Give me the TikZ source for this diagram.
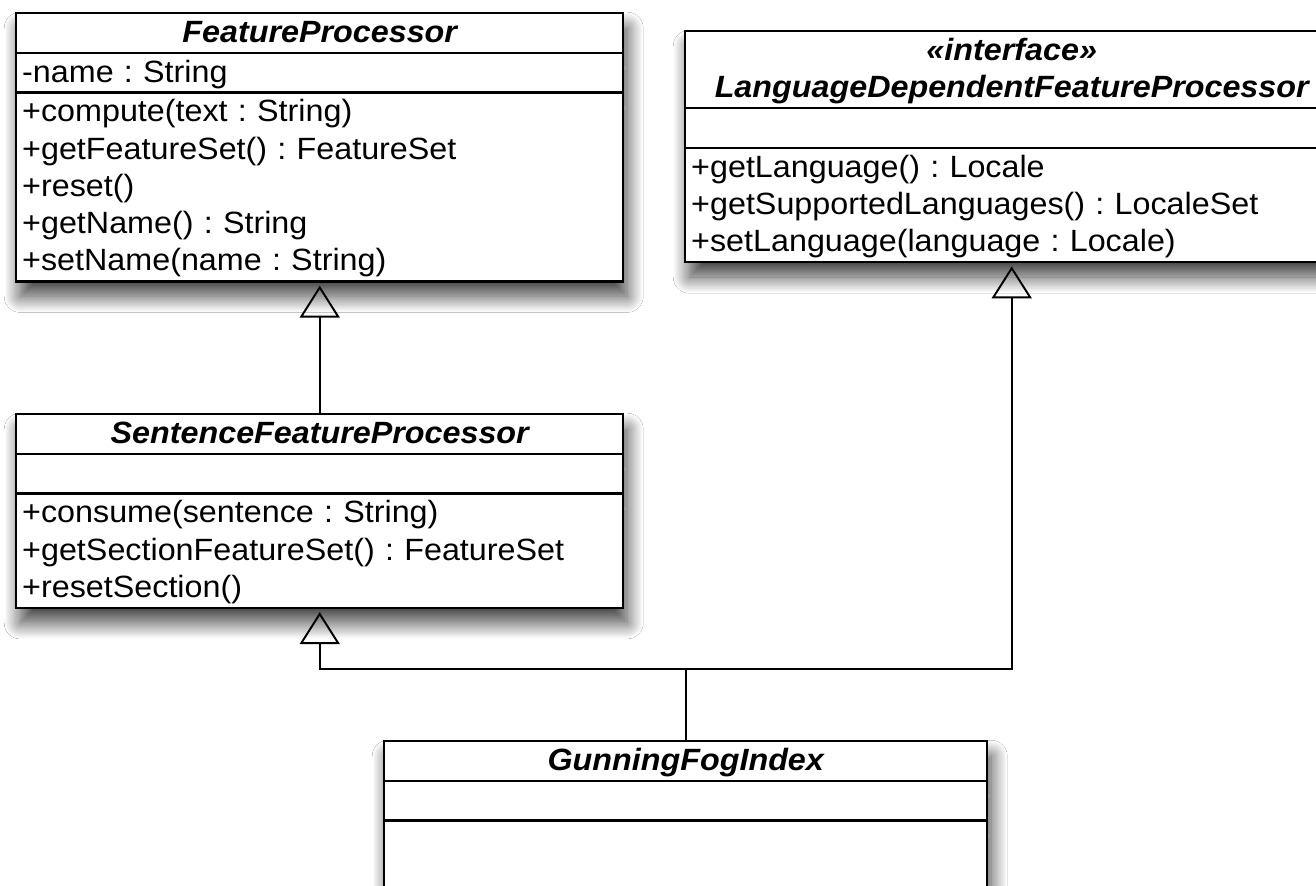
\documentclass[tikz,border=0pt]{standalone}
\usepackage{fontspec}
\setmainfont{Liberation Sans}[FakeStretch=1.05]
\usepackage{tikz}
\usetikzlibrary{arrows.meta,shapes.multipart,shadows.blur,positioning}
\frenchspacing

\newcommand{\rowstrut}{\rule[-5.3pt]{0pt}{21.2pt}}
\newcommand{\classtitle}[1]{\hbox to\hsize{\hss\bfseries\itshape\rowstrut#1\hss}}

\tikzstyle{umlclass} = [rectangle split, rectangle split parts=3, draw, line width=1.4pt, fill=white, align=left, inner xsep=0.12cm, inner ysep=0pt, font=\fontsize{17.5}{21.2}\selectfont, blur shadow={shadow xshift=0.08cm, shadow yshift=-0.3cm, shadow blur radius=0.32cm, shadow blur steps=30, shadow opacity=75}]
\tikzstyle{inherit} = [line width=1.1pt, -{Triangle[open, length=0.64cm, width=0.8cm]}, shorten >=0.06cm]

\begin{document}
\begin{tikzpicture}
    \useasboundingbox[fill=white] (0,0) rectangle (26.32,-17.72);

    % Abstract base class
    \node[umlclass, text width=11.90cm, anchor=north west] (fp) at (0.30,-0.24) {\classtitle{FeatureProcessor}
        \nodepart{two}\rowstrut-name : String
        \nodepart{three}\rowstrut+compute(text : String)\\
        \rowstrut+getFeatureSet() : FeatureSet\\
        \rowstrut+reset()\\
        \rowstrut+getName() : String\\
        \rowstrut+setName(name : String)};

    % Interface
    \node[umlclass, text width=12.82cm, anchor=north west] (ldfp) at (13.68,-0.60) {\classtitle{«interface»}
        \classtitle{LanguageDependentFeatureProcessor}
        \nodepart{two}\rowstrut
        \nodepart{three}\rowstrut+getLanguage() : Locale\\
        \rowstrut+getSupportedLanguages() : LocaleSet\\
        \rowstrut+setLanguage(language : Locale)};

    % Sentence level processor
    \node[umlclass, text width=11.90cm, anchor=north west] (sfp) at (0.30,-8.26) {\classtitle{SentenceFeatureProcessor}
        \nodepart{two}\rowstrut
        \nodepart{three}\rowstrut+consume(sentence : String)\\
        \rowstrut+getSectionFeatureSet() : FeatureSet\\
        \rowstrut+resetSection()};

    % Concrete class
    \node[umlclass, text width=11.82cm, anchor=north west] (gfi) at (7.66,-14.80) {\classtitle{GunningFogIndex}
        \nodepart{two}\rowstrut
        \nodepart{three}\rowstrut\\ \rowstrut\\ \rowstrut};

    % Generalizations
    \coordinate (join) at (gfi.north |- 0,-13.38);
    \draw[line width=1.1pt] (gfi.north) -- (join);
    \draw[inherit] (join) -| (sfp.south);
    \draw[inherit] (join) -| (ldfp.south);
    \draw[inherit] (sfp.north) -- (fp.south);
\end{tikzpicture}
\end{document}
